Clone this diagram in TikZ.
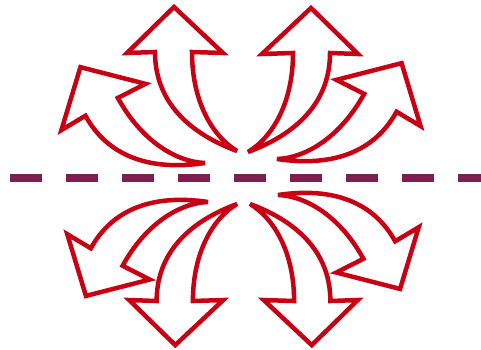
\documentclass[tikz,border=0pt]{standalone}
\usetikzlibrary{positioning}

\definecolor{arrowred}{RGB}{200,0,20}
\definecolor{dashpurple}{RGB}{123,33,80}

\tikzset{
    bent/.style={draw=arrowred, line width=4.5pt, fill=white, line join=miter, miter limit=4},
    divider/.style={draw=dashpurple, line width=8.5pt, dash pattern=on 32pt off 24pt},
    bentarrow/.pic={
        \path[bent] (0,0) .. controls (-54,20) and (-82,54) .. (-82,99)
            -- (-110,98) -- (-63,144) -- (-14,98) -- (-45,99)
            .. controls (-45,50) and (-25,15) .. cycle;
    }
}

\begin{document}
\begin{tikzpicture}[x=1pt, y=1pt]
    \useasboundingbox (0,0) rectangle (481,350);
    % dashed divider
    \draw[divider] (10,172) -- (481,172);
    % upper arrows
    \pic at (237,199) {bentarrow};
    \pic[rotate=28.8] at (205,187) {bentarrow};
    \pic[xscale=-1] at (248,198) {bentarrow};
    \pic[rotate=-28.8, xscale=-1] at (277,191) {bentarrow};
    % lower arrows
    \pic[xscale=0.98, yscale=-0.98] at (237,146) {bentarrow};
    \pic[rotate=-28.8, xscale=0.98, yscale=-0.98] at (208,148) {bentarrow};
    \pic[rotate=180, scale=0.98] at (250,146) {bentarrow};
    \pic[rotate=208.8, scale=0.98] at (278,155) {bentarrow};
\end{tikzpicture}
\end{document}
